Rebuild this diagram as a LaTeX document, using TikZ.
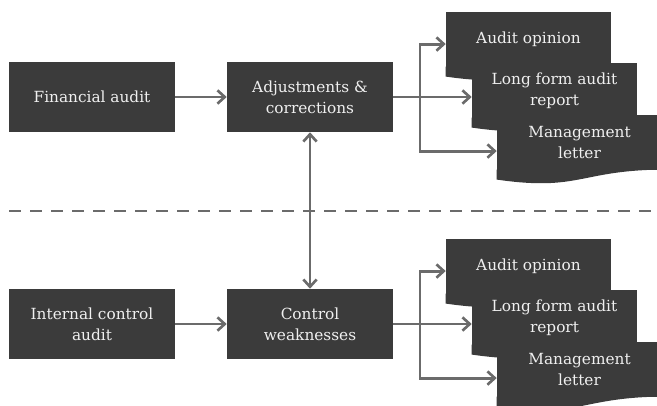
\documentclass[tikz,border=0pt]{standalone}
\usepackage{fontspec}
\setmainfont{DejaVu Serif}
\usetikzlibrary{arrows.meta}
\usetikzlibrary{calc}
\usetikzlibrary{positioning}
\definecolor{boxgray}{HTML}{3B3B3B}
\definecolor{linegray}{HTML}{6B6B6B}
\begin{document}
\begin{tikzpicture}[x=0.75pt,y=-0.75pt,
  box/.style={rectangle,fill=boxgray,text=white!94!black,align=center,minimum width=124.5pt,minimum height=52.5pt,inner sep=2pt,font=\fontsize{11.5}{15.8}\selectfont},
  docbox/.style={box,minimum width=123.75pt,minimum height=41.4pt},
  wave/.style={fill=boxgray},
  link/.style={draw=linegray,line width=2.2pt,-{Straight Barb[length=5.5pt,width=10pt,line width=2pt]}}]
  \useasboundingbox (0,0) rectangle (657,405);

  % separator
  \coordinate (sepL) at (9,211);
  \coordinate (sepR) at (657,211);
  \draw[linegray,line width=2.2pt,dash pattern=on 9pt off 6.75pt] (sepL) -- (sepR);

  % financial audit
  \node[box] (fin) at (92,97) {Financial audit};
  \node[box] (adj) at (310,97) {Adjustments \&\\corrections};
  \node[docbox] (op1) at (528.5,39.5) {Audit opinion};
  \fill[wave] ([yshift=0.6pt]op1.south east) .. controls (op1.south) and ($(op1.south)+(0,-15.9pt)$) .. ($(op1.south west)+(0,-6.9pt)$) -- ([yshift=0.6pt]op1.south west) -- cycle;
  \node[docbox] (lf1) at (554.5,90.5) {Long form audit\\report};
  \fill[wave] ([yshift=0.6pt]lf1.south east) .. controls (lf1.south) and ($(lf1.south)+(0,-15.9pt)$) .. ($(lf1.south west)+(0,-6.9pt)$) -- ([yshift=0.6pt]lf1.south west) -- cycle;
  \node[docbox] (ml1) at (579.5,142.5) {Management\\letter};
  \fill[wave] ([yshift=0.6pt]ml1.south east) .. controls (ml1.south) and ($(ml1.south)+(0,-15.9pt)$) .. ($(ml1.south west)+(0,-6.9pt)$) -- ([yshift=0.6pt]ml1.south west) -- cycle;

  % internal control audit
  \node[box] (ica) at (92,324) {Internal control\\audit};
  \node[box] (ctl) at (310,324) {Control\\weaknesses};
  \node[docbox] (op2) at (528.5,266.5) {Audit opinion};
  \fill[wave] ([yshift=0.6pt]op2.south east) .. controls (op2.south) and ($(op2.south)+(0,-15.9pt)$) .. ($(op2.south west)+(0,-6.9pt)$) -- ([yshift=0.6pt]op2.south west) -- cycle;
  \node[docbox] (lf2) at (554.5,317.5) {Long form audit\\report};
  \fill[wave] ([yshift=0.6pt]lf2.south east) .. controls (lf2.south) and ($(lf2.south)+(0,-15.9pt)$) .. ($(lf2.south west)+(0,-6.9pt)$) -- ([yshift=0.6pt]lf2.south west) -- cycle;
  \node[docbox] (ml2) at (579.5,369.5) {Management\\letter};
  \fill[wave] ([yshift=0.6pt]ml2.south east) .. controls (ml2.south) and ($(ml2.south)+(0,-15.9pt)$) .. ($(ml2.south west)+(0,-6.9pt)$) -- ([yshift=0.6pt]ml2.south west) -- cycle;

  % connectors
  \coordinate (t1) at (420,97);
  \coordinate (t2) at (420,324);
  \draw[link] (fin) -- (adj);
  \draw[link] (adj.east) -- (adj.east -| lf1.west);
  \draw[link] (t1) |- ([yshift=-3.4pt]op1.west);
  \draw[link] (t1) |- ([yshift=-6.4pt]ml1.west);
  \draw[link] (ica) -- (ctl);
  \draw[link] (ctl.east) -- (ctl.east -| lf2.west);
  \draw[link] (t2) |- ([yshift=-3.4pt]op2.west);
  \draw[link] (t2) |- ([yshift=-6.4pt]ml2.west);
  \draw[link,{Straight Barb[length=5.5pt,width=10pt,line width=2pt]}-{Straight Barb[length=5.5pt,width=10pt,line width=2pt]}] (adj.south) -- (ctl.north);
\end{tikzpicture}
\end{document}
